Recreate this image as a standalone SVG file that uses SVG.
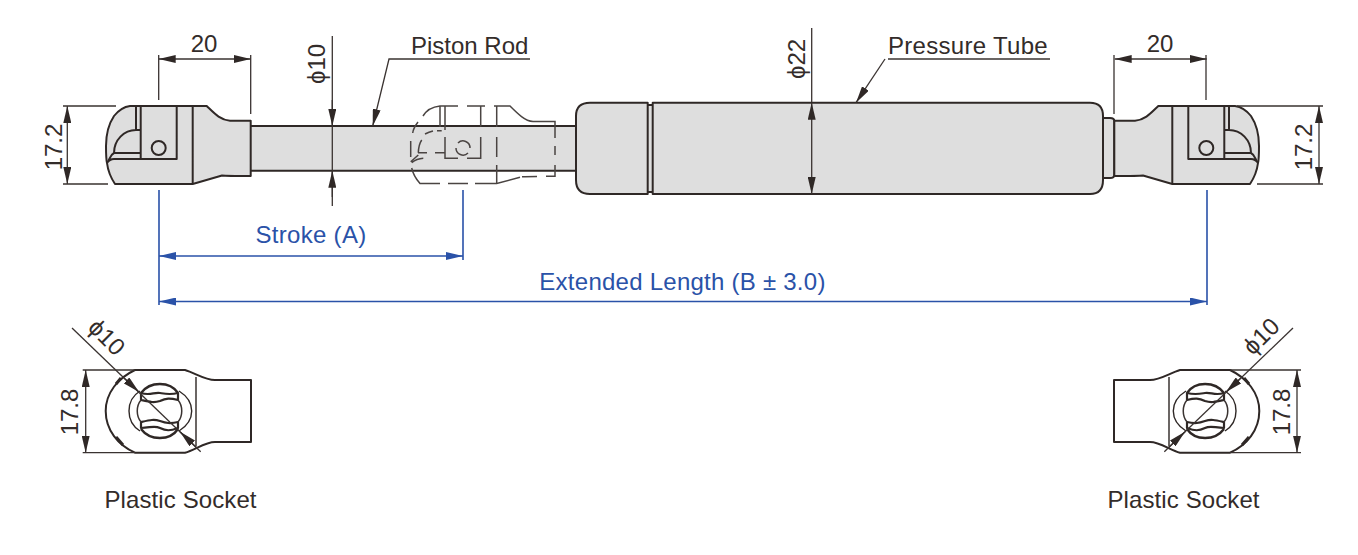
<svg xmlns="http://www.w3.org/2000/svg" xmlns:xlink="http://www.w3.org/1999/xlink" width="1358" height="555" viewBox="0 0 1358 555">
<style>
text{font-family:"Liberation Sans",Arial,sans-serif;font-size:24px;fill:#332c2a}
.b{fill:#2a52a8!important}
.o{fill:none;stroke:#2f2826;stroke-width:2;stroke-linejoin:round}
.f{fill:#dedede;stroke:#2f2826;stroke-width:2;stroke-linejoin:round}
.d{fill:none;stroke:#3a3331;stroke-width:1.3}
.g{fill:none;stroke:#4a4442;stroke-width:1.5}
.bl{fill:none;stroke:#2a52a8;stroke-width:1.6}
.t{fill:none;stroke:#2f2826;stroke-width:3}
.s{marker-start:url(#as)}.e{marker-end:url(#ae)}
.bs{marker-start:url(#bs)}.be{marker-end:url(#be)}
</style>
<defs>
<marker id="ae" markerUnits="userSpaceOnUse" markerWidth="18" markerHeight="8" refX="17" refY="4" orient="auto"><path d="M0 0L17 4L0 8Z" fill="#2f2826"/></marker>
<marker id="as" markerUnits="userSpaceOnUse" markerWidth="18" markerHeight="8" refX="1" refY="4" orient="auto"><path d="M18 0L1 4L18 8Z" fill="#2f2826"/></marker>
<marker id="be" markerUnits="userSpaceOnUse" markerWidth="18" markerHeight="8" refX="17" refY="4" orient="auto"><path d="M0 0L17 4L0 8Z" fill="#2a52a8"/></marker>
<marker id="bs" markerUnits="userSpaceOnUse" markerWidth="18" markerHeight="8" refX="1" refY="4" orient="auto"><path d="M18 0L1 4L18 8Z" fill="#2a52a8"/></marker>
<path id="sock-out" d="M130 106C122 107 118 111 114 116C108 125 106 134 106 146C106 154 106 159 107 163C108 171 111 178 115 184L192.700 184L222 175.500C226 176 240 176 250.700 176L250.700 120.700L230 120.700C220 120 214 113 206.700 106Z"/>
<path id="sock-in" d="M192.700 106V184M136 106V130M140.700 106V159H176.700V106M136 130H140.700M136 130C124 130 114 140 114 153H140.700M107 163C110 159 110 155 114 153M107 163C109 160 111 159 114 159H140.700"/>
<g id="end-view">
<path class="o" d="M135 370H185C195 373 205 380 215 380H251V442H215C205 442 195 450 185 452.700H135C118 445 105.700 430 105.700 411C105.700 393 118 378 135 370Z"/>
<path class="d" style="stroke-width:1.500" d="M196 377V446"/>
<path class="t" d="M116 384L121 378M116 437L123 445"/>
<path class="o" style="stroke-width:1.400" d="M140 391C132 396 129 403 129 411C129 419 132 426 140 431M179 391C187 396 191.700 403 191.700 411C191.700 419 187 426 179 431"/>
<path class="t" style="stroke-width:2.400" d="M141 393C150 381 170 381 178 393M141 429C150 441 170 441 178 429"/>
<path class="o" style="stroke-width:2.200" d="M141 393C150 396 154 392 160 393C166 394 170 395 178 393V400C170 398 166 398 160 401C154 403 150 402 141 400ZM141 422C150 420 154 419 160 421C166 423 170 424 178 422V428C170 431 166 431 160 428C154 425 150 428 141 428Z"/>
<path class="d" style="stroke-width:1.500" d="M141 400C136 406 136 416 141 422M178 400C183 406 183 416 178 422"/>
<path class="d" d="M72 328L200.700 451.700"/>
<path class="d" d="M124 378L139 392" style="marker-end:url(#ae)"/>
<path class="d" d="M180 431.700L197 448" style="marker-start:url(#as)"/>
</g>
</defs>

<g id="gas-spring">
<rect id="piston-rod" x="250" y="126" width="330" height="44.700" class="f"/>
<g id="pressure-tube">
<path class="f" d="M1103 118H1110Q1114.300 118 1114.300 121V175Q1114.300 178 1110 178H1103Z"/>
<path class="f" d="M646 105H654V192H646Z"/>
<path class="f" d="M590 102.700H647.700V194H590Q576 194 576 180V116Q576 102.700 590 102.700Z"/>
<path class="f" d="M652.700 102.700H1090Q1103 102.700 1103 116V180Q1103 194 1090 194H652.700Z"/>
</g>
</g>

<g id="left-socket">
<use xlink:href="#sock-out" class="f"/>
<use xlink:href="#sock-in" class="o"/>
<circle cx="158.700" cy="148" r="7" class="o"/>
</g>

<g id="ghost-socket">
<path class="g" d="M458 106H440C431 107 426 111 423 116M418 122C415 126 413 130 412.700 133M410.700 141V157M411.700 168C413 174 416 179 420 183.500H440M448 183.500H468M475 183.500H496.700L520 177.300M522 176.800C527 176.500 532 176.500 537 176.500M546 176.200H555V165M555 155V146M555 138V121.500H533C525 121 518 114 510 106H494M485 106H467"/>
<path class="g" d="M440 106V127M445 106V130M441.700 130.700H437M433 131C429 132 427 133 425 134M421.700 140C419 144 418.500 148 418.300 152.700M418 152.700H427M435 152.700H445M445 137V158.300H458M467 158.300H480.700V137M480.700 106V126.700M496.700 106V127M496.700 137V157M496.700 165V183.500M410.700 161.700L418.300 155M411.700 162.700C415 160 419 158.500 423.300 158.300"/>
<path class="g" d="M458 143A7 7 0 0 1 470 148M468 153A7 7 0 0 1 456 148"/>
</g>

<g id="right-socket" transform="translate(1365 0) scale(-1 1)">
<use xlink:href="#sock-out" class="f"/>
<use xlink:href="#sock-in" class="o"/>
<circle cx="158.700" cy="148" r="7" class="o"/>
</g>

<g id="left-end-view"><use xlink:href="#end-view"/></g>
<g id="right-end-view" transform="translate(1365 0) scale(-1 1)"><use xlink:href="#end-view"/></g>

<g id="connectors">
<path class="d s e" d="M158.700 59H250.700"/>
<path class="d" d="M158.700 55V100M250.700 55V114"/>
<path class="d s e" d="M67.300 106V184"/>
<path class="d" d="M63 106H116M63 184H108"/>
<path class="d s e" d="M1114.700 59H1206.700"/>
<path class="d" d="M1114 55V114M1206 55V100"/>
<path class="d s e" d="M1319 106V184"/>
<path class="d" d="M1237 106H1323M1257 184H1323"/>
<path class="d" d="M332.300 36V206"/>
<path class="d e" d="M332.300 100V126"/>
<path class="d e" d="M332.300 197V170.700"/>
<path class="d e" d="M530 59H389L372.700 126"/>
<path class="d s e" d="M811.700 102.700V194"/>
<path class="d" d="M811.700 28V102"/>
<path class="d e" d="M885 59L856 102.700"/>
<path class="d" d="M888 59H1050"/>
<path class="bl bs be" d="M159 256H463"/>
<path class="bl" d="M159 190V305M463 190V260M1207 190V305"/>
<path class="bl bs be" d="M159 301.500H1207"/>
<path class="d" d="M82.700 370H135M82.700 452.700H135"/>
<path class="d s e" d="M85.700 370V452.700"/>
<path class="d" d="M1230 370H1301M1230 452.700H1301"/>
<path class="d s e" d="M1297 370V452.700"/>
</g>

<g id="labels">
<text x="204" y="52" text-anchor="middle">20</text>
<text x="1160" y="52" text-anchor="middle">20</text>
<text transform="translate(61.500 147) rotate(-90)" text-anchor="middle">17.2</text>
<text transform="translate(1312 147) rotate(-90)" text-anchor="middle">17.2</text>
<text transform="translate(325 64) rotate(-90)" text-anchor="middle">ϕ10</text>
<text transform="translate(804.500 59) rotate(-90)" text-anchor="middle">ϕ22</text>
<text x="411" y="54">Piston Rod</text>
<text x="888" y="54" style="letter-spacing:.3px">Pressure Tube</text>
<text class="b" x="311" y="243" text-anchor="middle" style="letter-spacing:.3px">Stroke (A)</text>
<text class="b" x="682.500" y="290" text-anchor="middle" style="letter-spacing:.25px">Extended Length (B ± 3.0)</text>
<text transform="translate(77.500 412) rotate(-90)" text-anchor="middle">17.8</text>
<text transform="translate(1290 412) rotate(-90)" text-anchor="middle">17.8</text>
<text transform="translate(101 343) rotate(45)" text-anchor="middle">ϕ10</text>
<text transform="translate(1267 342) rotate(-45)" text-anchor="middle">ϕ10</text>
<text x="104.500" y="508" style="letter-spacing:.1px">Plastic Socket</text>
<text x="1107.500" y="508" style="letter-spacing:.1px">Plastic Socket</text>
</g>
</svg>
